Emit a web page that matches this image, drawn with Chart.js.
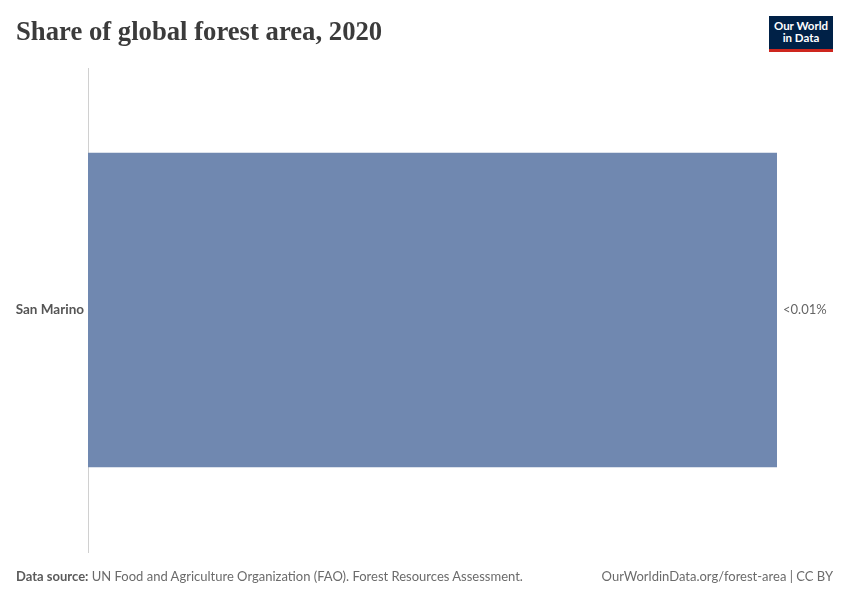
<!DOCTYPE html>
<html>
<head>
<meta charset="utf-8">
<script src="https://cdn.jsdelivr.net/npm/chart.js@4"></script>
<style>
  html, body { margin: 0; padding: 0; background: #fff; }
  #wrap { position: relative; width: 850px; height: 600px; overflow: hidden; }
  #chart { position: absolute; left: 0; top: 0; }
  #title {
    position: absolute; left: 16px; top: 16px; margin: 0;
    font-family: "Liberation Serif", "DejaVu Serif", serif; font-weight: bold;
    font-size: 26.7px; color: #3b3b3b;
  }
  #logo {
    position: absolute; left: 769px; top: 16px; width: 64px; height: 29px;
    background: #002147; border-bottom: 3px solid #ce261e;
    color: #fff; font-family: Lato, sans-serif; font-weight: bold;
    font-size: 11.5px; line-height: 12px; text-align: center;
    padding-top: 4px;
  }
  .foot {
    position: absolute; top: 568px; font-family: Lato, sans-serif;
    font-size: 13px; color: #6b6b6b;
  }
  .foot b { color: #5b5b5b; }
</style>
</head>
<body>
<div id="wrap">
  <canvas id="chart" width="850" height="600"></canvas>
  <h1 id="title">Share of global forest area, 2020</h1>
  <div id="logo">Our World<br>in Data</div>
  <div class="foot" style="left:16px"><b>Data source:</b> UN Food and Agriculture Organization (FAO). Forest Resources Assessment.</div>
  <div class="foot" style="right:17px">OurWorldinData.org/forest-area | CC BY</div>
</div>
<script>
const countries = ["San Marino"];
const shares = [0.0000399]; // percent of global forest area
const barColor = "#7088b0";

function fmt(v) {
    return v < 0.01 ? "<0.01%" : v.toFixed(2) + "%";
}

const valueLabels = {
    id: "valueLabels",
    afterDatasetsDraw(chart) {
        const ctx = chart.ctx;
        const meta = chart.getDatasetMeta(0);
        ctx.save();
        ctx.font = "13px Lato, sans-serif";
        ctx.fillStyle = "#666";
        ctx.textBaseline = "middle";
        meta.data.forEach((bar, i) => {
            ctx.fillText(fmt(shares[i]), bar.x + 6, bar.y);
        });
        ctx.restore();
    },
};

const chart = new Chart(document.getElementById("chart"), {
    type: "bar",
    data: {
        labels: countries,
        datasets: [
            {
                data: shares,
                backgroundColor: barColor,
                barPercentage: 0.65,
                categoryPercentage: 1,
            },
        ],
    },
    options: {
        indexAxis: "y",
        responsive: false,
        animation: false,
        layout: {
            padding: { top: 68, bottom: 48, right: 73, left: 0 },
        },
        plugins: {
            legend: { display: false },
            tooltip: { enabled: false },
        },
        scales: {
            x: {
                display: false,
                min: 0,
                max: shares[0],
            },
            y: {
                grid: { display: false },
                border: { display: true, color: "#d0d0d0", width: 1 },
                ticks: {
                    padding: -4,
                    color: "#555",
                    font: { family: "Lato, sans-serif", size: 13.5, weight: "bold" },
                },
                afterFit(axis) {
                    axis.width = 88;
                },
            },
        },
    },
    plugins: [valueLabels],
});
</script>
</body>
</html>
